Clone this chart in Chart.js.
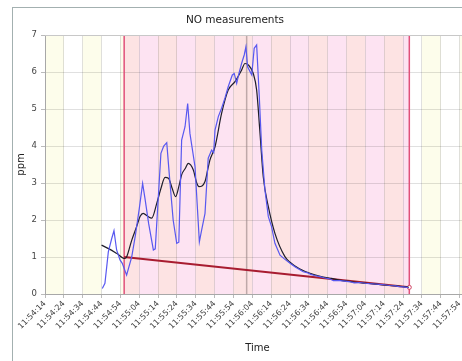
<!DOCTYPE html>
<html>
<head>
<meta charset="utf-8">
<script src="https://cdn.jsdelivr.net/npm/chart.js@4/dist/chart.umd.min.js"></script>
<style>
  html, body { margin: 0; padding: 0; background: #fff; overflow: hidden; }
  #wrap { position: relative; width: 462px; height: 361px; overflow: hidden; }
  #frame { position: absolute; left: 12px; top: 7px; width: 480px; height: 380px; border: 1px solid #a3b0b0; }
  #chart { position: absolute; left: 0; top: 0; }
</style>
</head>
<body>
<div id="wrap">
  <div id="frame"></div>
  <canvas id="chart" width="484" height="361"></canvas>
</div>
<script>
// tick labels, one every 10 seconds from 11:54:14
const timeLabels = [
  "11:54:14", "11:54:24", "11:54:34", "11:54:44", "11:54:54", "11:55:04",
  "11:55:14", "11:55:24", "11:55:34", "11:55:44", "11:55:54", "11:56:04",
  "11:56:14", "11:56:24", "11:56:34", "11:56:44", "11:56:54", "11:57:04",
  "11:57:14", "11:57:24", "11:57:34", "11:57:44", "11:57:54"
];

// seconds after 11:54:14 : start of zone, peak marker, end of zone
const markerTimes = [42, 107, 193.3];

// raw NO measurement (blue)
const rawT = [
  30.4, 31.8, 33.6, 35.4, 36.6, 38, 39.8, 41, 43.3, 46, 48, 50, 51.8, 53, 55,
  57.5, 58.5, 61.5, 63, 64.6, 66, 68, 69.9, 71, 72.5, 74.3, 75.7, 76.9, 79.6,
  81.9, 83, 84.9, 86.6, 88.4, 89.5, 90.2, 92, 93.7, 95.5, 97.2, 99.4, 100.4,
  101.7, 102.9, 104.3, 105.7, 106.6, 107.5, 108.8, 109.7, 111, 112.3, 112.8,
  113.7, 115, 116.7, 118.5, 120.2, 122, 124.7, 127, 130, 133, 135, 137, 139,
  141, 143, 145.9, 148, 151, 153, 156.5, 159, 162, 164, 167, 170, 172, 175,
  177.7, 180, 183, 186, 188, 190, 192.7
];
const rawPpm = [
  0.15, 0.29, 1.14, 1.5, 1.71, 1.19, 0.92, 0.83, 0.51, 1.0, 1.6, 2.3, 2.99, 2.6, 1.9,
  1.19, 1.22, 3.8, 4.0, 4.09, 3.2, 2.0, 1.37, 1.4, 4.16, 4.52, 5.15, 4.34, 3.44,
  1.41, 1.7, 2.18, 3.67, 3.89, 3.82, 4.43, 4.8, 5.02, 5.3, 5.6, 5.92, 5.96,
  5.69, 5.96, 6.23, 6.46, 6.68, 6.14, 6.01, 5.92, 6.64, 6.73, 6.23,
  5.33, 3.89, 2.81, 2.09, 1.82, 1.37, 1.05, 0.95, 0.83, 0.72, 0.66, 0.6, 0.58,
  0.53, 0.5, 0.47, 0.44, 0.41, 0.36, 0.36, 0.35, 0.33, 0.3, 0.31, 0.29, 0.28, 0.27,
  0.26, 0.25, 0.23, 0.22, 0.2, 0.19, 0.17
];

// smoothed curve (black)
const smoothT = [
  30, 34, 38, 42.4, 43.3, 46, 48.6, 50.5, 52.1, 54.5, 56.6, 59.3, 61.5, 63.7,
  65.5, 67.5, 69.3, 71, 72.5, 74.5, 76, 78.7, 80.5, 81.7, 84.9, 86.5, 87.5,
  90.2, 93.7, 97.2, 100.8, 104.3, 106.1, 107.9, 110.5, 112.3, 114, 115.8,
  118.5, 122, 127.3, 130, 135, 141, 146, 152, 157, 163, 168, 173, 178, 183,
  188, 193
];
const smoothPpm = [
  1.32, 1.22, 1.1, 0.96, 1.0, 1.45, 1.82, 2.1, 2.18, 2.1, 2.05, 2.45, 2.85, 3.15,
  3.13, 2.85, 2.63, 2.9, 3.22, 3.4, 3.53, 3.35, 3.0, 2.9, 3.04, 3.4, 3.62,
  3.98, 4.88, 5.51, 5.74, 6.05, 6.23, 6.19, 5.96, 5.51, 4.4, 3.17,
  2.36, 1.64, 1.01, 0.86, 0.68, 0.55, 0.48, 0.42, 0.37, 0.33, 0.3, 0.28, 0.25, 0.23,
  0.21, 0.18
];

// baseline (red)
const baseT = [42, 193.3];
const basePpm = [1.0, 0.18];

const xMax = 225.5;

function pts(xs, ys) {
  return xs.map((x, i) => ({ x: x, y: ys[i] }));
}

// alternating background bands + zone lines
const bandsPlugin = {
  id: "bands",
  beforeDraw(chart) {
    const { ctx, chartArea, scales } = chart;
    const x = scales.x;
    ctx.save();
    ctx.beginPath();
    ctx.rect(chartArea.left, chartArea.top, chartArea.width, chartArea.height);
    ctx.clip();
    for (let k = 0; k * 10 < xMax; k++) {
      const a = k * 10, b = Math.min((k + 1) * 10, xMax);
      const segs = [
        [a, Math.min(b, markerTimes[0]), false],
        [Math.max(a, markerTimes[0]), Math.min(b, markerTimes[2]), true],
        [Math.max(a, markerTimes[2]), b, false]
      ];
      segs.forEach(([s, e, inside]) => {
        if (e <= s) return;
        let col;
        if (inside) col = k % 2 === 0 ? "#fde3e3" : "#fde3f2";
        else col = k % 2 === 0 ? "#fdfdeb" : "#ffffff";
        const x0 = x.getPixelForValue(s), x1 = x.getPixelForValue(e);
        ctx.fillStyle = col;
        ctx.fillRect(x0, chartArea.top, x1 - x0, chartArea.height);
      });
    }
    ctx.restore();
  },
  beforeDatasetsDraw(chart) {
    const { ctx, chartArea, scales } = chart;
    const x = scales.x;
    ctx.save();
    // peak marker
    ctx.strokeStyle = "rgba(150,130,130,0.6)";
    ctx.lineWidth = 1.5;
    let px = x.getPixelForValue(markerTimes[1]);
    ctx.beginPath();
    ctx.moveTo(px, chartArea.top);
    ctx.lineTo(px, chartArea.bottom);
    ctx.stroke();
    // zone borders
    ctx.strokeStyle = "#e0507a";
    ctx.lineWidth = 1.5;
    [markerTimes[0], markerTimes[2]].forEach(t => {
      const p = x.getPixelForValue(t);
      ctx.beginPath();
      ctx.moveTo(p, chartArea.top);
      ctx.lineTo(p, chartArea.bottom);
      ctx.stroke();
    });
    // top border of plot
    ctx.strokeStyle = "#c8c8c8";
    ctx.lineWidth = 1;
    ctx.beginPath();
    ctx.moveTo(chartArea.left, chartArea.top + 0.5);
    ctx.lineTo(chartArea.right, chartArea.top + 0.5);
    ctx.stroke();
    ctx.restore();
  }
};

const font = "'DejaVu Sans', Verdana, sans-serif";

new Chart(document.getElementById("chart"), {
  type: "line",
  data: {
    datasets: [
      {
        label: "NO",
        data: pts(rawT, rawPpm),
        borderColor: "#5858f0",
        borderWidth: 1.2,
        pointRadius: 0,
        tension: 0
      },
      {
        label: "smoothed",
        data: pts(smoothT, smoothPpm),
        borderColor: "#1e1e2a",
        borderWidth: 1.2,
        pointRadius: 0,
        cubicInterpolationMode: "monotone"
      },
      {
        label: "baseline",
        data: pts(baseT, basePpm),
        borderColor: "#a81c30",
        borderWidth: 2,
        pointRadius: [0, 2],
        pointBackgroundColor: "#fff",
        pointBorderColor: "#d04060",
        pointBorderWidth: 1
      }
    ]
  },
  options: {
    responsive: false,
    animation: false,
    layout: { padding: { left: 0, right: 14, top: 0, bottom: 0 } },
    plugins: {
      legend: { display: false },
      tooltip: { enabled: false },
      title: {
        display: true,
        text: "NO measurements",
        color: "#222",
        font: { family: font, size: 10.5, weight: "normal" },
        padding: { top: 14, bottom: 8.4 }
      }
    },
    scales: {
      x: {
        type: "linear",
        min: 0,
        max: xMax,
        afterFit(scale) { scale.height = 67; },
        afterBuildTicks(scale) {
          scale.ticks = timeLabels.map((l, i) => ({ value: i * 10, label: l }));
        },
        ticks: {
          autoSkip: false,
          maxRotation: 45,
          minRotation: 45,
          padding: 1,
          color: "#444",
          font: { family: font, size: 8 },
          callback: (v, i) => timeLabels[i]
        },
        grid: { color: "rgba(0,0,0,0.12)", tickLength: 4, tickColor: "#bbb" },
        border: { color: "#a8a8a8" },
        title: {
          display: true,
          text: "Time",
          color: "#222",
          font: { family: font, size: 10 },
          padding: { top: 0, bottom: 7 }
        }
      },
      y: {
        min: 0,
        max: 7,
        afterFit(scale) { scale.width = 45; },
        ticks: {
          stepSize: 1,
          padding: 4,
          color: "#444",
          font: { family: font, size: 8.5 }
        },
        grid: { color: "rgba(0,0,0,0.12)", tickLength: 4, tickColor: "#bbb" },
        border: { color: "#a8a8a8" },
        title: {
          display: true,
          text: "ppm",
          color: "#222",
          font: { family: font, size: 10 },
          padding: { top: 15, bottom: 0 }
        }
      }
    }
  },
  plugins: [bandsPlugin]
});
</script>
</body>
</html>
